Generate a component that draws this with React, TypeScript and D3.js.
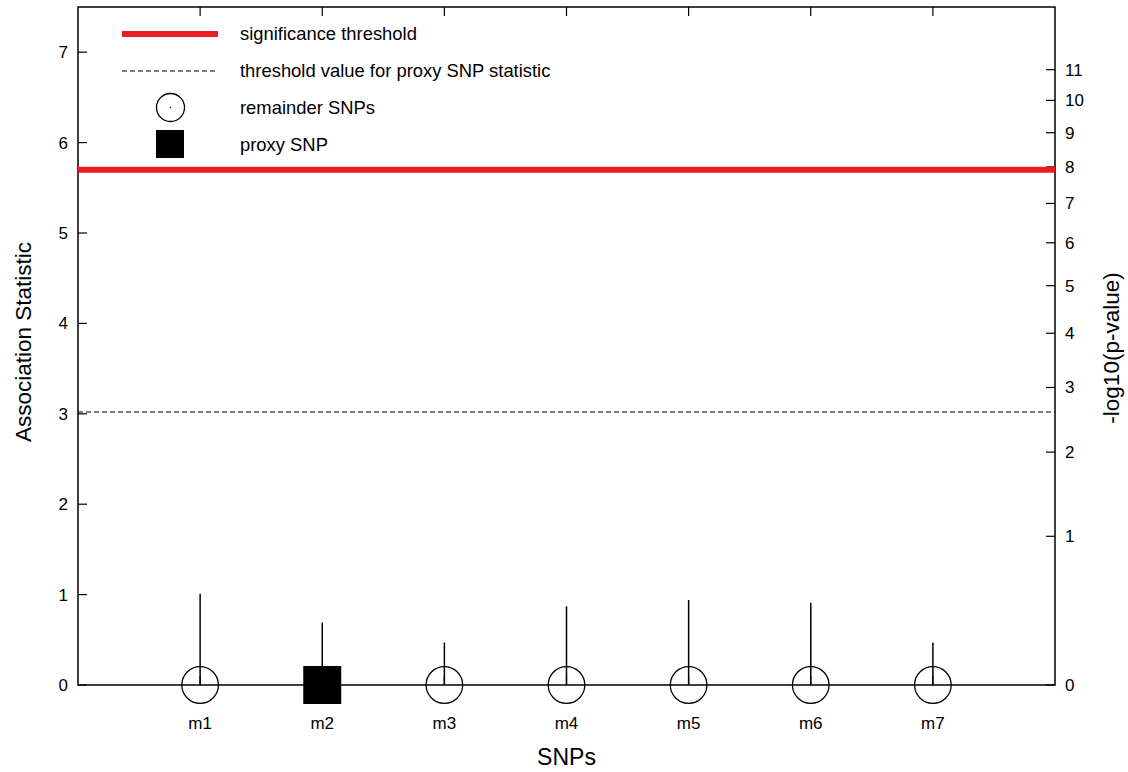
import React from "react";
import * as d3 from "d3";

const snps = ["m1", "m2", "m3", "m4", "m5", "m6", "m7"];
const statValues = [1.01, 0.69, 0.47, 0.87, 0.94, 0.91, 0.47];
const proxyFlags = [false, true, false, false, false, false, false];
const leftTicks = [0, 1, 2, 3, 4, 5, 6, 7];
const rightTickLabels = [0, 1, 2, 3, 4, 5, 6, 7, 8, 9, 10, 11];
const rightTickStat = [0, 1.645, 2.576, 3.291, 3.891, 4.417, 4.892, 5.327, 5.731, 6.109, 6.467, 6.807];
const significanceThreshold = 5.7;
const proxyThreshold = 3.02;
const legendLabels = [
  "significance threshold",
  "threshold value for proxy SNP statistic",
  "remainder SNPs",
  "proxy SNP",
];

const W = 1128;
const H = 772;
const L = 78;
const R = 1055;
const T = 7;
const B = 685;
const RED = "#ed1c24";
const FONT = "'Liberation Sans', Arial, Helvetica, sans-serif";

export default function App() {
  const x = d3.scaleLinear().domain([0, 8]).range([L, R]);
  const y = d3.scaleLinear().domain([0, 7.5]).range([B, T]);
  const tick = 9;

  return (
    <svg width={W} height={H} style={{ position: "absolute", left: 0, top: 0, background: "#fff" }} fontFamily={FONT}>
      <rect x={0} y={0} width={W} height={H} fill="#fff" />
      {/* frame */}
      <rect x={L} y={T} width={R - L} height={B - T} fill="none" stroke="#000" strokeWidth={1.5} />

      {/* left ticks */}
      {leftTicks.map((t) => (
        <g key={"l" + t}>
          <line x1={L} x2={L + tick} y1={y(t)} y2={y(t)} stroke="#000" strokeWidth={1.2} />
          <text x={L - 10} y={y(t)} dy="0.35em" textAnchor="end" fontSize={17}>{t}</text>
        </g>
      ))}
      {/* right ticks */}
      {rightTickLabels.map((t, i) => (
        <g key={"r" + t}>
          <line x1={R - tick} x2={R} y1={y(rightTickStat[i])} y2={y(rightTickStat[i])} stroke="#000" strokeWidth={1.2} />
          <text x={R + 10} y={y(rightTickStat[i])} dy="0.35em" textAnchor="start" fontSize={17}>{t}</text>
        </g>
      ))}
      {/* x ticks */}
      {snps.map((s, i) => (
        <g key={"x" + s}>
          <line x1={x(i + 1)} x2={x(i + 1)} y1={T} y2={T + tick} stroke="#000" strokeWidth={1.2} />
          <line x1={x(i + 1)} x2={x(i + 1)} y1={B} y2={B - tick} stroke="#000" strokeWidth={1.2} />
          <text x={x(i + 1)} y={723} dy="0.35em" textAnchor="middle" fontSize={17}>{s}</text>
        </g>
      ))}

      {/* threshold lines */}
      <line x1={L} x2={R} y1={y(significanceThreshold)} y2={y(significanceThreshold)} stroke={RED} strokeWidth={6} />
      <line x1={L} x2={R} y1={y(proxyThreshold)} y2={y(proxyThreshold)} stroke="#000" strokeWidth={1.2} strokeDasharray="5,3" />

      {/* impulses and points */}
      {statValues.map((v, i) => (
        <line key={"imp" + i} x1={x(i + 1)} x2={x(i + 1)} y1={y(0)} y2={y(v)} stroke="#000" strokeWidth={1.5} />
      ))}
      {snps.map((s, i) =>
        proxyFlags[i] ? (
          <rect key={"pt" + s} x={x(i + 1) - 19} y={y(0) - 19} width={38} height={38} fill="#000" />
        ) : (
          <circle key={"pt" + s} cx={x(i + 1)} cy={y(0)} r={18.3} fill="none" stroke="#000" strokeWidth={1.3} />
        )
      )}

      {/* legend */}
      <line x1={122} x2={218} y1={34} y2={34} stroke={RED} strokeWidth={6} />
      <line x1={122} x2={218} y1={71} y2={71} stroke="#000" strokeWidth={1.2} strokeDasharray="5,3" />
      <circle cx={170.5} cy={107.5} r={14} fill="none" stroke="#000" strokeWidth={1.3} />
      <circle cx={170.5} cy={107.5} r={0.7} fill="#000" />
      <rect x={156} y={130} width={28} height={28} fill="#000" />
      {legendLabels.map((lab, i) => (
        <text key={lab} x={240} y={34 + i * 36.7} dy="0.35em" fontSize={18.4}>{lab}</text>
      ))}

      {/* axis titles */}
      <text x={(L + R) / 2} y={757} dy="0.35em" textAnchor="middle" fontSize={23}>SNPs</text>
      <text transform={`translate(23,342) rotate(-90)`} dy="0.35em" textAnchor="middle" fontSize={22.5}>Association Statistic</text>
      <text transform={`translate(1111,348) rotate(-90)`} dy="0.35em" textAnchor="middle" fontSize={22.5}>-log10(p-value)</text>
    </svg>
  );
}
